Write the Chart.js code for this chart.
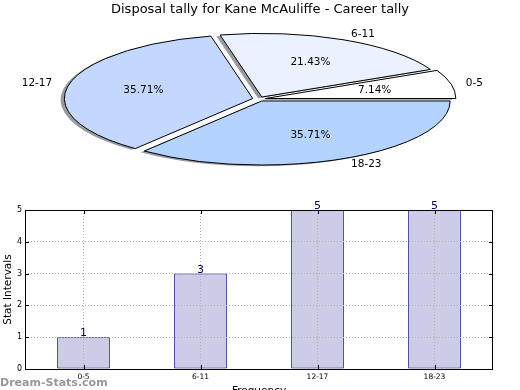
<!DOCTYPE html>
<html>
<head>
<meta charset="utf-8">
<title>Disposal tally for Kane McAuliffe - Career tally</title>
<script src="https://cdn.jsdelivr.net/npm/chart.js@4.4.1/dist/chart.umd.min.js"></script>
<style>
  html, body { margin: 0; padding: 0; background: #fff; overflow: hidden; }
  #wrap { position: relative; width: 520px; height: 390px; overflow: hidden; }
  #pie { position: absolute; left: 0; top: 0; }
  #bars { position: absolute; left: 0; top: 195px; }
</style>
</head>
<body>
<div id="wrap">
  <canvas id="pie" width="520" height="190"></canvas>
  <canvas id="bars" width="520" height="205"></canvas>
</div>
<script>
const chartTitle = 'Disposal tally for Kane McAuliffe - Career tally'
const categories = ['0-5', '6-11', '12-17', '18-23']
const tally = [1, 3, 5, 5]
const yTicks = [0, 1, 2, 3, 4, 5]
const pieColors = ['#ffffff', '#eaf1ff', '#c4d8ff', '#b4d4ff']

Chart.defaults.font.family = "'DejaVu Sans', sans-serif"
Chart.defaults.color = '#000'

// pie is drawn as a circle and squashed into an ellipse
const PIE_X = 259
const PIE_Y = 99
const SQUASH = 0.34
const RADIUS = 187
const EXPLODE = 25.6 // chart.js moves a slice by offset / 4
const SHADOW_DX = -0.02 * RADIUS
const SHADOW_DY = 0.02 * RADIUS * SQUASH

// matplotlib goes counter clockwise from 3 o'clock, chart.js clockwise
const pieLabels = categories.slice().reverse()
const pieValues = tally.slice().reverse()
const pieFill = pieColors.slice().reverse()
const total = tally.reduce((a, b) => a + b, 0)

function sliceGeom(el) {
  const h = (el.startAngle + el.endAngle) / 2
  const t = (el.options.offset || 0) / 4
  const fix = 1 - Math.sin(Math.min(Math.PI, el.circumference))
  return { h, t, r: el.outerRadius + t * fix }
}

function flatten(ctx, el, dx, dy) {
  ctx.translate(PIE_X + dx, PIE_Y + dy)
  ctx.scale(1, SQUASH)
  ctx.translate(-el.x, -el.y)
}

function slicePath(ctx, el) {
  const { h, t, r } = sliceGeom(el)
  const cx = el.x + Math.cos(h) * t
  const cy = el.y + Math.sin(h) * t
  ctx.moveTo(cx, cy)
  ctx.arc(cx, cy, r, el.startAngle, el.endAngle)
  ctx.closePath()
}

const ellipsePie = {
  id: 'ellipsePie',
  beforeDatasetsDraw(chart) {
    const ctx = chart.ctx
    const arcs = chart.getDatasetMeta(0).data
    // shadow under every slice
    ctx.save()
    flatten(ctx, arcs[0], SHADOW_DX, SHADOW_DY)
    ctx.beginPath()
    arcs.forEach((el) => slicePath(ctx, el))
    ctx.restore()
    ctx.fillStyle = 'rgba(50,55,70,0.5)'
    ctx.fill()

    ctx.save()
    flatten(ctx, arcs[0], 0, 0)
  },
  afterDatasetsDraw(chart) {
    const ctx = chart.ctx
    ctx.restore()
    const arcs = chart.getDatasetMeta(0).data

    // outlines, built squashed but stroked with an even pen
    ctx.save()
    flatten(ctx, arcs[0], 0, 0)
    ctx.beginPath()
    arcs.forEach((el) => slicePath(ctx, el))
    ctx.restore()
    ctx.save()
    ctx.lineWidth = 1
    ctx.strokeStyle = '#000'
    ctx.lineJoin = 'miter'
    ctx.stroke()

    ctx.font = "10.5px 'DejaVu Sans'"
    ctx.fillStyle = '#000'
    ctx.textBaseline = 'middle'
    arcs.forEach((el, i) => {
      const { h, t } = sliceGeom(el)
      const pct = ((pieValues[i] / total) * 100).toFixed(2) + '%'
      let d = t + 0.6 * RADIUS
      ctx.textAlign = 'center'
      ctx.fillText(pct, PIE_X + Math.cos(h) * d, PIE_Y + Math.sin(h) * d * SQUASH)
      d = t + 1.1 * RADIUS
      ctx.textAlign = Math.cos(h) > 0 ? 'left' : 'right'
      ctx.fillText(pieLabels[i], PIE_X + Math.cos(h) * d, PIE_Y + Math.sin(h) * d * SQUASH)
    })
    ctx.restore()
  },
}

new Chart(document.getElementById('pie'), {
  type: 'pie',
  data: {
    labels: pieLabels,
    datasets: [
      {
        data: pieValues,
        backgroundColor: pieFill,
        borderWidth: 0,
        offset: EXPLODE,
        radius: RADIUS,
        clip: false,
      },
    ],
  },
  options: {
    responsive: false,
    animation: false,
    events: [],
    rotation: 90,
    plugins: {
      legend: { display: false },
      tooltip: { enabled: false },
      title: {
        display: true,
        text: chartTitle,
        font: { size: 13, weight: 'normal' },
        color: '#000',
        padding: { top: 2, bottom: 0 },
      },
    },
  },
  plugins: [ellipsePie],
})

const barExtras = {
  id: 'barExtras',
  afterDraw(chart) {
    const ctx = chart.ctx
    const { left, right, top, bottom } = chart.chartArea
    ctx.save()
    ctx.strokeStyle = '#000'
    ctx.lineWidth = 1
    ctx.strokeRect(left + 0.5, top + 0.5, right - left - 1, bottom - top)
    // little inward ticks like matplotlib
    ctx.beginPath()
    chart.scales.y.ticks.forEach((tk) => {
      const y = Math.round(chart.scales.y.getPixelForValue(tk.value)) + 0.5
      ctx.moveTo(left, y)
      ctx.lineTo(left + 4, y)
      ctx.moveTo(right, y)
      ctx.lineTo(right - 4, y)
    })
    categories.forEach((c, i) => {
      const x = Math.round(chart.scales.x.getPixelForValue(i)) + 0.5
      ctx.moveTo(x, bottom)
      ctx.lineTo(x, bottom - 4)
      ctx.moveTo(x, top)
      ctx.lineTo(x, top + 4)
    })
    ctx.stroke()

    ctx.font = "11px 'DejaVu Sans'"
    ctx.fillStyle = '#000080'
    ctx.textAlign = 'center'
    ctx.textBaseline = 'alphabetic'
    chart.getDatasetMeta(0).data.forEach((bar, i) => {
      ctx.fillText(String(tally[i]), bar.x, bar.y - 1)
    })

    ctx.font = "bold 11px 'DejaVu Sans'"
    ctx.fillStyle = 'rgba(125,125,125,0.8)'
    ctx.textAlign = 'left'
    ctx.fillText('Dream-Stats.com', 0, 191)
    ctx.restore()
  },
}

new Chart(document.getElementById('bars'), {
  type: 'bar',
  data: {
    labels: categories,
    datasets: [
      {
        data: tally,
        backgroundColor: '#ccccE6',
        borderColor: '#000080',
        borderWidth: 1,
        borderSkipped: false,
        barPercentage: 0.45,
        categoryPercentage: 1,
      },
    ],
  },
  options: {
    responsive: false,
    animation: false,
    events: [],
    layout: { padding: { left: 0, right: 27, top: 15, bottom: 0 } },
    plugins: {
      legend: { display: false },
      tooltip: { enabled: false },
    },
    scales: {
      x: {
        grid: { z: 1, offset: false, color: '#b0b0b0', drawTicks: false },
        border: { display: false, dash: [1, 2] },
        ticks: {
          font: { size: 7.5 },
          color: '#000',
          padding: 4,
          maxRotation: 0,
          autoSkip: false,
        },
        title: {
          display: true,
          text: 'Frequency',
          font: { size: 10.5 },
          color: '#000',
          padding: { top: 0, bottom: 2 },
        },
        afterFit: (scale) => {
          scale.height = 31
        },
      },
      y: {
        min: yTicks[0],
        max: yTicks[yTicks.length - 1],
        afterBuildTicks: (scale) => {
          scale.ticks = yTicks.map((v) => ({ value: v }))
        },
        grid: { z: 1, color: '#b0b0b0', drawTicks: false },
        border: { display: false, dash: [1, 2] },
        ticks: { font: { size: 8 }, color: '#000', padding: 3 },
        title: {
          display: true,
          text: 'Stat Intervals',
          font: { size: 10.5 },
          color: '#000',
          padding: { top: 2, bottom: 0 },
        },
        afterFit: (scale) => {
          scale.width = 25
        },
      },
    },
  },
  plugins: [barExtras],
})
</script>
</body>
</html>
